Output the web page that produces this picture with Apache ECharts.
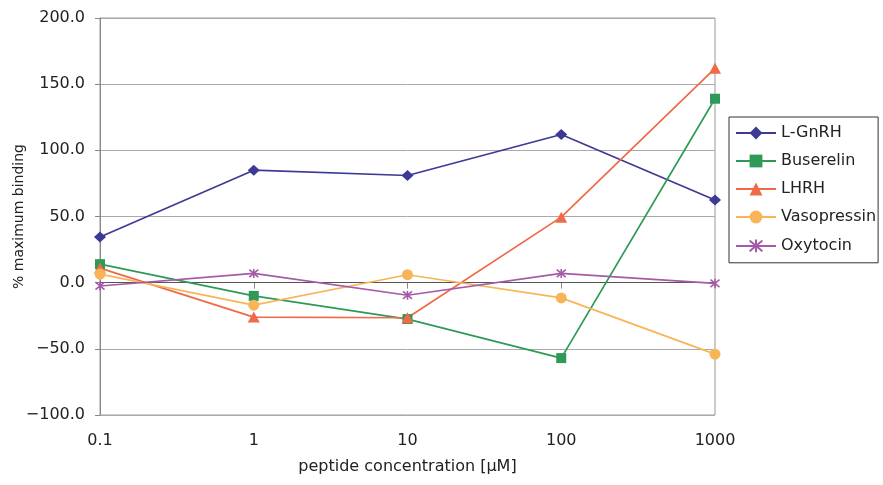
<!DOCTYPE html>
<html><head><meta charset="utf-8">
<script src="https://cdn.jsdelivr.net/npm/echarts@6/dist/echarts.min.js"></script>
<style>html,body{margin:0;padding:0;background:#fff}#c{width:883px;height:485px}</style>
</head><body><div id="c"></div>
<script>
var concentrations = [0.1, 1, 10, 100, 1000];
var xTickLabels = ['0.1', '1', '10', '100', '1000'];
var lGnRH = [34.5, 85, 81, 112, 62.5];
var buserelin = [14, -10, -27.5, -57, 139];
var lhrh = [11, -26, -26.5, 49.5, 162];
var vasopressin = [6.5, -17, 6, -11.5, -54];
var oxytocin = [-2.5, 7, -9.5, 7, -0.5];

function pairs(vals){ return concentrations.map(function(x,i){ return [x, vals[i]]; }); }

var font = 'DejaVu Sans, sans-serif';
var star = 'path://M0,0L10,10M10,0L0,10M5,-1L5,11';

function mk(name, vals, color, symbol, size, extra){
  var s = {
    name: name, type: 'line', data: pairs(vals),
    symbol: symbol, symbolSize: size,
    lineStyle: {color: color, width: 1.7},
    itemStyle: {color: color},
    z: 3
  };
  if (extra) for (var k in extra) s[k] = extra[k];
  return s;
}

var series = [
  mk('L-GnRH', lGnRH, '#3d3a96', 'diamond', [12, 11]),
  mk('Buserelin', buserelin, '#2f9a57', 'rect', 10),
  mk('LHRH', lhrh, '#ee6a48', 'triangle', [12, 11]),
  mk('Vasopressin', vasopressin, '#f8b558', 'circle', 11),
  mk('Oxytocin', oxytocin, '#a55aa7', star, 9, {
    itemStyle: {color: 'none', borderColor: '#a55aa7', borderWidth: 1.6}
  })
];
series[0].markLine = {
  silent: true, symbol: ['none','none'], label: {show:false},
  lineStyle: {color: '#555', width: 1, type: 'solid'},
  data: [{yAxis: 0}], z: 2
};

var chart = echarts.init(document.getElementById('c'), null, {renderer: 'canvas'});
chart.setOption({
  animation: false,
  backgroundColor: '#fff',
  grid: {left: 100, right: 168, top: 18, bottom: 70, show: true, borderColor: '#999', borderWidth: 1, containLabel: false, outerBoundsMode: 'none'},
  xAxis: {
    type: 'log', logBase: 10, min: 0.1, max: 1000,
    name: 'peptide concentration [μM]', nameLocation: 'middle', nameGap: 44, nameMoveOverlap: false,
    nameTextStyle: {fontFamily: font, fontSize: 16, color: '#222'},
    axisLine: {show: true, lineStyle: {color: '#888', width: 1}},
    axisTick: {show: true, length: 6, lineStyle: {color: '#888'}},
    axisLabel: {fontFamily: font, fontSize: 16, color: '#222', margin: 18,
      formatter: function(v){ var i = -1; for (var j=0;j<concentrations.length;j++) if (Math.abs(concentrations[j]-v)/concentrations[j] < 1e-6) i=j; return i>=0 ? xTickLabels[i] : ''; }},
    splitLine: {show: false},
    minorTick: {show: false}
  },
  yAxis: {
    type: 'value', min: -100, max: 200, interval: 50,
    name: '% maximum binding', nameLocation: 'middle', nameGap: 74, nameRotate: 90, nameMoveOverlap: false,
    nameTextStyle: {fontFamily: font, fontSize: 14, color: '#222'},
    axisLine: {show: true, lineStyle: {color: '#888', width: 1}},
    axisTick: {show: true, length: 5, lineStyle: {color: '#888'}},
    axisLabel: {fontFamily: font, fontSize: 16, color: '#222', margin: 15,
      formatter: function(v){ return (v < 0 ? '\u2212' + Math.abs(v).toFixed(1) : v.toFixed(1)); }},
    splitLine: {show: true, lineStyle: {color: '#aaa', width: 1}}
  },
  legend: {
    orient: 'vertical', left: 729, top: 117,
    padding: [8, 2, 8, 6],
    itemWidth: 40, itemHeight: 16, itemGap: 12,
    borderColor: '#333', borderWidth: 1,
    textStyle: {fontFamily: font, fontSize: 16, color: '#222'},
    data: ['L-GnRH', 'Buserelin', 'LHRH', 'Vasopressin', 'Oxytocin']
  },
  series: series
});
</script></body></html>
